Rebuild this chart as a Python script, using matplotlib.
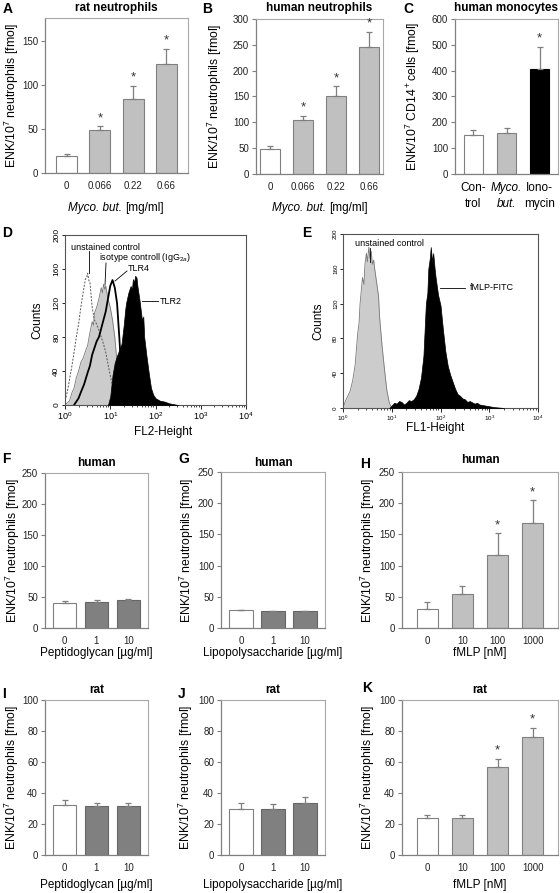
import numpy as np
import matplotlib
matplotlib.use("Agg")
import matplotlib.pyplot as plt
from matplotlib.ticker import LogLocator, LogFormatterMathtext, NullFormatter

plt.rcParams['font.family'] = ['Liberation Sans', 'DejaVu Sans']
plt.rcParams['mathtext.fontset'] = 'custom'
plt.rcParams['mathtext.rm'] = 'Liberation Sans'
plt.rcParams['mathtext.it'] = 'Liberation Sans:italic'

W, H = 560, 893
fig = plt.figure(figsize=(W / 100, H / 100), dpi=100)
renderer = fig.canvas.get_renderer()

# ---------------- data ----------------
a_cats = ["0", "0.066", "0.22", "0.66"]
a_vals = [19, 48.5, 84, 124]
a_errs = [2.5, 4.5, 15, 17]
a_stars = [False, True, True, True]

b_cats = ["0", "0.066", "0.22", "0.66"]
b_vals = [48, 104, 150, 245]
b_errs = [6, 9, 20, 30]
b_stars = [False, True, True, True]

c_cats = ["Con-\ntrol", "Myco.\nbut.", "Iono-\nmycin"]
c_vals = [152, 160, 407]
c_errs = [18, 18, 86]
c_stars = [False, False, True]

f_cats = ["0", "1", "10"]
f_vals = [41, 42, 45]
f_errs = [2.5, 2.5, 2.5]

g_cats = ["0", "1", "10"]
g_vals = [28.5, 27, 27]
g_errs = [0.5, 0.5, 0.5]

h_cats = ["0", "10", "100", "1000"]
h_vals = [31, 54, 117, 168]
h_errs = [10, 13, 35, 37]
h_stars = [False, False, True, True]

i_cats = ["0", "1", "10"]
i_vals = [32, 31.5, 31.5]
i_errs = [3.5, 2, 2]

j_cats = ["0", "1", "10"]
j_vals = [29.5, 30, 33.5]
j_errs = [4, 3, 4]

k_cats = ["0", "10", "100", "1000"]
k_vals = [24, 24, 57, 76]
k_errs = [1.5, 1.8, 5, 6]
k_stars = [False, False, True, True]

# flow cytometry histograms (log10 of fluorescence, counts)
d_unst_log = [0, 0.05, 0.1, 0.15, 0.2, 0.25, 0.3, 0.35, 0.4, 0.45, 0.48, 0.5, 0.53, 0.55, 0.6, 0.65,
              0.7, 0.75, 0.8, 0.85, 0.9, 0.95, 1.0, 1.05, 1.1, 1.15, 1.2, 1.3]
d_unst_cnt = [5, 15, 30, 45, 62, 80, 95, 115, 132, 148, 150, 155, 146, 145, 115, 100,
              95, 88, 80, 72, 62, 48, 35, 22, 12, 6, 2, 0]
d_iso_log = [0, 0.1, 0.15, 0.2, 0.25, 0.3, 0.35, 0.4, 0.45, 0.5, 0.55, 0.6, 0.63, 0.65, 0.7, 0.75,
             0.8, 0.83, 0.85, 0.88, 0.9, 0.95, 1.0, 1.05, 1.1, 1.15, 1.2, 1.25, 1.3]
d_iso_cnt = [0, 5, 14, 20, 32, 40, 50, 55, 63, 70, 85, 98, 94, 108, 115, 125,
             138, 132, 142, 136, 140, 125, 115, 100, 80, 50, 20, 5, 0]
d_tlr4_log = [0.2, 0.3, 0.35, 0.42, 0.5, 0.55, 0.6, 0.7, 0.75, 0.8, 0.9, 0.95, 1.0, 1.05, 1.1,
              1.15, 1.2, 1.25, 1.3, 1.35, 1.4]
d_tlr4_cnt = [0, 8, 15, 24, 38, 46, 59, 75, 80, 90, 110, 125, 140, 147, 138,
              120, 80, 35, 12, 3, 0]
d_tlr2_log = [0.95, 1.0, 1.05, 1.1, 1.15, 1.2, 1.25, 1.3, 1.33, 1.35, 1.4, 1.45, 1.48, 1.5, 1.53,
              1.55, 1.58, 1.6, 1.65, 1.7, 1.73, 1.75, 1.8, 1.85, 1.9, 1.95, 2.0, 2.1, 2.2, 2.3,
              2.4, 2.5]
d_tlr2_cnt = [0, 10, 35, 50, 58, 65, 72, 95, 112, 120, 132, 140, 136, 148, 145,
              152, 150, 140, 122, 100, 104, 80, 58, 38, 20, 12, 8, 5, 4, 2,
              1, 0]

e_unst_log = [0, 0.05, 0.1, 0.15, 0.2, 0.25, 0.3, 0.33, 0.35, 0.4, 0.43, 0.45, 0.48, 0.5, 0.53,
              0.55, 0.58, 0.6, 0.63, 0.65, 0.7, 0.73, 0.75, 0.8, 0.85, 0.9, 0.95, 1.0]
e_unst_cnt = [0, 8, 14, 20, 32, 50, 85, 98, 120, 150, 142, 165, 178, 168, 185,
              172, 180, 165, 170, 160, 140, 128, 105, 72, 45, 20, 6, 0]
e_fmlp_log = [0.95, 1.0, 1.05, 1.1, 1.15, 1.2, 1.25, 1.3, 1.35, 1.4, 1.45, 1.5, 1.55, 1.6, 1.65,
              1.7, 1.73, 1.75, 1.78, 1.8, 1.83, 1.85, 1.88, 1.9, 1.95, 2.0, 2.05, 2.1, 2.15,
              2.2, 2.25, 2.3, 2.35, 2.4, 2.45, 2.5, 2.55, 2.6, 2.7, 2.75, 2.8, 2.9, 3.0, 3.1,
              3.3]
e_fmlp_cnt = [0, 3, 6, 5, 8, 7, 4, 6, 9, 8, 10, 14, 22, 35, 60,
              120, 132, 160, 172, 185, 168, 178, 160, 150, 130, 118, 90, 65, 48,
              38, 30, 22, 16, 14, 11, 10, 7, 8, 5, 6, 4, 3, 2, 1,
              0]

# ---------------- helpers ----------------
def add_ax(x0, y0, x1, y1):
    ax = fig.add_axes([x0 / W, 1 - y1 / H, (x1 - x0) / W, (y1 - y0) / H])
    ax._px = (x0, y0, x1, y1)
    return ax

def ftext(x, y, s, **kw):
    return fig.text(x / W, 1 - y / H, s, **kw)

YFS = 8.8   # y label size
TFS = 8.5   # title size
XFS = 8.5   # x label size
KFS = 7     # tick label size

def ylabel_at(ax, text, xpx, fs=YFS):
    ax.set_ylabel(text, fontsize=fs, va="center")
    x0, y0, x1, y1 = ax._px
    ax.yaxis.set_label_coords((xpx - x0) / (x1 - x0), 0.5)

def xlabel_at(ax, text, ypx, fs=XFS, xpx=None):
    ax.set_xlabel(text, fontsize=fs, va="center")
    x0, y0, x1, y1 = ax._px
    xr = 0.5 if xpx is None else (xpx - x0) / (x1 - x0)
    ax.xaxis.set_label_coords(xr, (y1 - ypx) / (y1 - y0))

def title_at(ax, text, ypx, fs=TFS):
    x0, y0, x1, y1 = ax._px
    ax.text(0.5, (y1 - ypx) / (y1 - y0), text, transform=ax.transAxes, ha="center", va="center",
            fontsize=fs, fontweight="bold")

def myco_label(cx, y, fs=XFS):
    t1 = ftext(0, y, "Myco. but.", style="italic", fontsize=fs, ha="left", va="center")
    t2 = ftext(0, y, "[mg/ml]", fontsize=fs, ha="left", va="center")
    w1 = t1.get_window_extent(renderer).width
    w2 = t2.get_window_extent(renderer).width
    gap = 3.5
    start = cx - (w1 + gap + w2) / 2
    t1.set_x(start / W)
    t2.set_x((start + w1 + gap) / W)

WHITE, LGREY, DGREY, BLACK = "white", "#c0c0c0", "#808080", "black"
EDGE = "#808080"

def bar_panel(ax, cats, vals, errs, colors, ylim, yticks, stars=None,
              width=0.62, margin=0.65, ecolors=None, star_off=1.5):
    n = len(vals)
    x = np.arange(n)
    if ecolors is None:
        ecolors = [EDGE] * n
    ax.bar(x, vals, width=width, color=colors, edgecolor=ecolors, linewidth=0.8, zorder=2)
    ax.errorbar(x, vals, yerr=[np.zeros(n), errs], fmt='none', ecolor="#7f7f7f",
                elinewidth=0.9, capsize=2.2, capthick=0.9, zorder=3)
    if stars:
        for xi, v, e, s in zip(x, vals, errs, stars):
            if s:
                ax.annotate("*", (xi, v + e), xytext=(0, star_off), textcoords="offset points",
                            ha="center", va="bottom", fontsize=9.5, color="#333333",
                            annotation_clip=False)
    ax.set_xlim(-margin, n - 1 + margin)
    ax.set_ylim(*ylim)
    ax.set_yticks(yticks)
    ax.set_xticks(x)
    ax.set_xticklabels(cats)
    ax.tick_params(axis='x', length=0, labelsize=KFS, pad=6, colors="#222222")
    ax.tick_params(axis='y', length=3, width=0.8, labelsize=KFS, pad=2, color="#808080",
                   labelcolor="#222222")
    for s in ("left", "bottom"):
        ax.spines[s].set_color("#808080")
        ax.spines[s].set_linewidth(0.9)
    for s in ("top", "right"):
        ax.spines[s].set_color("#a8a8a8")
        ax.spines[s].set_linewidth(0.8)

YL = "ENK/10$^7$ neutrophils [fmol]"

# ---------------- row 1 ----------------
axA = add_ax(45, 18, 188, 173)
bar_panel(axA, a_cats, a_vals, a_errs, [WHITE, LGREY, LGREY, LGREY], (0, 176), [0, 50, 100, 150],
          a_stars, width=0.63, margin=0.65)
title_at(axA, "rat neutrophils", 8)
ylabel_at(axA, YL, 12)
myco_label(116, 208)

axB = add_ax(256, 19, 383, 174)
bar_panel(axB, b_cats, b_vals, b_errs, [WHITE, LGREY, LGREY, LGREY], (0, 300),
          [0, 50, 100, 150, 200, 250, 300], b_stars, width=0.6, margin=0.42)
title_at(axB, "human neutrophils", 8)
ylabel_at(axB, YL, 215)
myco_label(320, 208)

axC = add_ax(455, 19, 558, 174)
bar_panel(axC, c_cats, c_vals, c_errs, [WHITE, LGREY, BLACK], (0, 600),
          [0, 100, 200, 300, 400, 500, 600], c_stars, width=0.6, margin=0.56,
          ecolors=[EDGE, EDGE, BLACK])
title_at(axC, "human monocytes", 8)
ylabel_at(axC, "ENK/10$^7$ CD14$^+$cells [fmol]", 413)
axC.set_xticklabels([])
for xi, (l1, l2, it) in enumerate([("Con-", "trol", False), ("Myco.", "but.", True),
                                    ("Iono-", "mycin", False)]):
    axC.annotate(l1, (xi, 0), xytext=(0, -6), textcoords="offset points", ha="center", va="top",
                 fontsize=XFS, style="italic" if it else "normal", annotation_clip=False)
    axC.annotate(l2, (xi, 0), xytext=(0, -17.5), textcoords="offset points", ha="center", va="top",
                 fontsize=XFS, style="italic" if it else "normal", annotation_clip=False)

# ---------------- row 2: flow cytometry ----------------
def flow_axes(ax, tick_fs_x, tick_fs_y):
    ax.set_xscale("log")
    ax.set_xlim(1, 1e4)
    ax.set_ylim(0, 200)
    ax.set_yticks([0, 40, 80, 120, 160, 200])
    ax.xaxis.set_major_locator(LogLocator(base=10, numticks=10))
    ax.xaxis.set_major_formatter(LogFormatterMathtext())
    ax.xaxis.set_minor_locator(LogLocator(base=10, subs=np.arange(2, 10), numticks=50))
    ax.xaxis.set_minor_formatter(NullFormatter())
    ax.tick_params(axis='x', which='major', length=3, width=0.6, labelsize=tick_fs_x, pad=1)
    ax.tick_params(axis='x', which='minor', length=1.5, width=0.5)
    ax.tick_params(axis='y', length=2.5, width=0.6, labelsize=tick_fs_y, pad=1)
    for lab in ax.get_yticklabels():
        lab.set_rotation(90)
        lab.set_va("center")
    for s in ax.spines.values():
        s.set_color("#555555")
        s.set_linewidth(0.8)

axD = add_ax(65, 235, 246, 405)
xi = 10 ** np.array(d_iso_log)
axD.fill_between(xi, d_iso_cnt, color="#cccccc", lw=0, zorder=1)
axD.plot(xi, d_iso_cnt, color="#777777", lw=0.6, zorder=2)
xu = 10 ** np.array(d_unst_log)
axD.plot(xu, d_unst_cnt, color="#555555", lw=0.7, ls=(0, (2, 1.5)), zorder=3)
x4 = 10 ** np.array(d_tlr4_log)
axD.plot(x4, d_tlr4_cnt, color="black", lw=1.3, zorder=4)
x2 = 10 ** np.array(d_tlr2_log)
axD.fill_between(x2, d_tlr2_cnt, color="black", lw=0.5, zorder=5)
flow_axes(axD, 6.5, 6)
xlabel_at(axD, "FL2-Height", 432, xpx=163)
ylabel_at(axD, "Counts", 37, fs=8.5)

def px2data(ax, px, py):
    inv = ax.transData.inverted()
    return inv.transform((px, H - py))

def leader(ax, p0, p1):
    a = px2data(ax, *p0)
    b = px2data(ax, *p1)
    ax.plot([a[0], b[0]], [a[1], b[1]], color="black", lw=0.6, zorder=6, clip_on=False)

ftext(71, 247, "unstained control", fontsize=6.5, ha="left", va="center")
ftext(99, 258, "isotype controll (IgG$_{2a}$)", fontsize=6.5, ha="left", va="center")
ftext(128, 268, "TLR4", fontsize=6.5, ha="left", va="center")
ftext(160, 301, "TLR2", fontsize=6.5, ha="left", va="center")
leader(axD, (89, 251), (89, 273))
leader(axD, (106, 263), (105, 285))
leader(axD, (127, 271), (115, 281))
leader(axD, (142, 301), (158, 301))

axE = add_ax(343, 234, 538, 408)
xe = 10 ** np.array(e_unst_log)
axE.fill_between(xe, e_unst_cnt, color="#cccccc", lw=0, zorder=1)
axE.plot(xe, e_unst_cnt, color="#777777", lw=0.6, zorder=2)
xf = 10 ** np.array(e_fmlp_log)
axE.fill_between(xf, e_fmlp_cnt, color="black", lw=0.5, zorder=3)
flow_axes(axE, 4.5, 4.5)
xlabel_at(axE, "FL1-Height", 428, xpx=435)
ylabel_at(axE, "Counts", 318, fs=8.5)
ftext(355, 243, "unstained control", fontsize=6.5, ha="left", va="center")
ftext(470, 288, "fMLP-FITC", fontsize=6.5, ha="left", va="center")
leader(axE, (370, 248), (370, 262))
leader(axE, (440, 288), (465, 288))

# ---------------- row 3 ----------------
T250 = [0, 50, 100, 150, 200, 250]
T100 = [0, 20, 40, 60, 80, 100]
DEDGE = [EDGE, "#666666", "#666666"]

axF = add_ax(45, 473, 148, 628)
bar_panel(axF, f_cats, f_vals, f_errs, [WHITE, DGREY, DGREY], (0, 250), T250,
          width=0.73, margin=0.62, ecolors=DEDGE)
title_at(axF, "human", 463)
ylabel_at(axF, YL, 13)
xlabel_at(axF, "Peptidoglycan [\u00b5g/ml]", 653)

axG = add_ax(221, 472, 325, 628)
bar_panel(axG, g_cats, g_vals, g_errs, [WHITE, DGREY, DGREY], (0, 250), T250,
          width=0.73, margin=0.62, ecolors=DEDGE)
title_at(axG, "human", 463)
ylabel_at(axG, YL, 187)
xlabel_at(axG, "Lipopolysaccharide [\u00b5g/ml]", 653)

axH = add_ax(402, 472, 558, 628)
bar_panel(axH, h_cats, h_vals, h_errs, [WHITE, LGREY, LGREY, LGREY], (0, 250), T250,
          h_stars, width=0.6, margin=0.72)
title_at(axH, "human", 460)
ylabel_at(axH, YL, 368)
xlabel_at(axH, "fMLP [nM]", 653)

# ---------------- row 4 ----------------
axI = add_ax(45, 700, 148, 855)
bar_panel(axI, i_cats, i_vals, i_errs, [WHITE, DGREY, DGREY], (0, 100), T100,
          width=0.73, margin=0.62, ecolors=DEDGE)
title_at(axI, "rat", 690)
ylabel_at(axI, YL, 12)
xlabel_at(axI, "Peptidoglycan [\u00b5g/ml]", 885)

axJ = add_ax(221, 700, 325, 855)
bar_panel(axJ, j_cats, j_vals, j_errs, [WHITE, DGREY, DGREY], (0, 100), T100,
          width=0.73, margin=0.62, ecolors=DEDGE)
title_at(axJ, "rat", 690)
ylabel_at(axJ, YL, 186)
xlabel_at(axJ, "Lipopolysaccharide [\u00b5g/ml]", 885)

axK = add_ax(402, 700, 558, 855)
bar_panel(axK, k_cats, k_vals, k_errs, [WHITE, LGREY, LGREY, LGREY], (0, 100), T100,
          k_stars, width=0.6, margin=0.72)
title_at(axK, "rat", 690)
ylabel_at(axK, YL, 368)
xlabel_at(axK, "fMLP [nM]", 885)

# ---------------- panel letters ----------------
for lx, ly, L in [(3, 9, "A"), (202, 9, "B"), (403, 9, "C"), (2, 233, "D"), (302, 233, "E"),
                  (2, 459, "F"), (178, 459, "G"), (360, 464, "H"), (2, 694, "I"), (178, 694, "J"),
                  (362, 688, "K")]:
    ftext(lx, ly, L, fontsize=10, fontweight="bold", ha="left", va="center")

fig.savefig("out.png", dpi=100)
